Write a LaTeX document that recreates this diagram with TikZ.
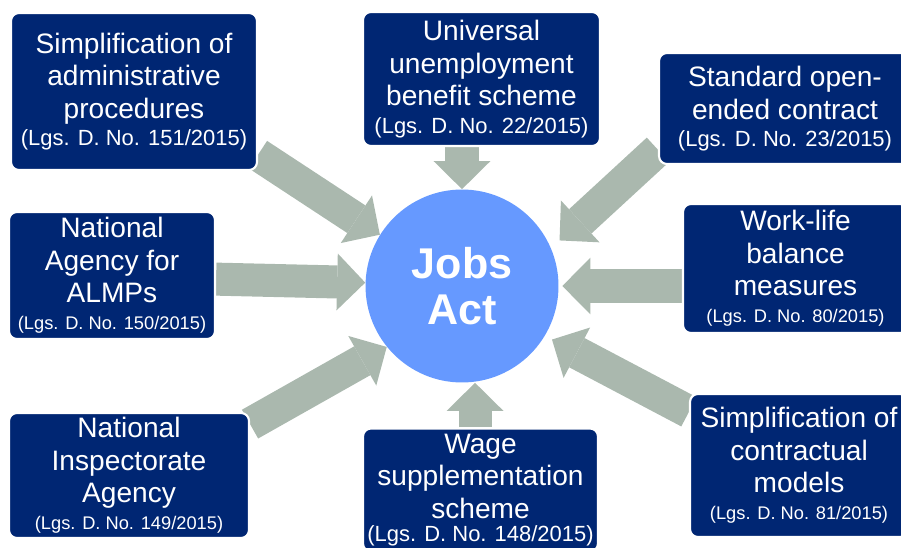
\documentclass[tikz,border=0pt]{standalone}
\usepackage{fontspec}
\setmainfont{Liberation Sans}
\usetikzlibrary{arrows.meta,backgrounds}
\definecolor{navybox}{RGB}{0,38,115}
\definecolor{hubblue}{RGB}{102,153,255}
\definecolor{arrowgray}{RGB}{170,184,174}
\newcommand{\lgsbig}[1]{{\fontsize{12.5}{15}\selectfont #1}}
\newcommand{\lgssmall}[1]{{\fontsize{10.4}{12.5}\selectfont #1}}

\begin{document}
\begin{tikzpicture}[x=0.02cm, y=-0.02cm,
  lawbox/.style={draw=white, line width=1.2pt, fill=navybox, rounded corners=4.5pt, text=white, align=center, inner sep=0pt, font={\fontsize{16}{18.5}\selectfont}},
  hub/.style={circle, fill=hubblue, text=white, minimum size=3.86cm, inner sep=0pt, align=center, font={\fontsize{24.5}{26.2}\selectfont\bfseries}},
  bigarrow/.style={draw=arrowgray, line width=18.8pt, -{Triangle[length=16pt, width=32.4pt, line width=0pt]}}]
\useasboundingbox (0,0) rectangle (901,547);
\clip (0,0) rectangle (901,547);

% Centre
\node[hub] (jobs) at (462,286) {Jobs\\Act};

% Boxes
\node[lawbox, minimum width=4.92cm, minimum height=3.14cm] (admin) at (134,91.5) {Simplification of\\administrative\\procedures\\[-3pt]\lgsbig{(Lgs. D. No. 151/2015)}};
\node[lawbox, minimum width=4.74cm, minimum height=2.68cm] (unemp) at (481.5,79) {Universal\\unemployment\\benefit scheme\\[-3pt]\lgsbig{(Lgs. D. No. 22/2015)}};
\node[lawbox, minimum width=5.04cm, minimum height=2.22cm] (contract) at (785,108.5) {Standard open-\\ended contract\\[-3pt]\lgsbig{(Lgs. D. No. 23/2015)}};
\node[lawbox, minimum width=4.5cm, minimum height=2.58cm] (worklife) at (795.5,268.5) {Work-life\\balance\\measures\\[-3pt]\lgssmall{(Lgs. D. No. 80/2015)}};
\node[lawbox, minimum width=4.36cm, minimum height=2.86cm] (models) at (799,465.5) {Simplification of\\contractual\\models\\[-3pt]\lgssmall{(Lgs. D. No. 81/2015)}};
\node[lawbox, minimum width=4.7cm, minimum height=2.46cm] (wage) at (480.5,490) {Wage\\supplementation\\scheme\\[-5pt]\lgsbig{(Lgs. D. No. 148/2015)}};
\node[lawbox, minimum width=4.8cm, minimum height=2.5cm] (inspect) at (129,475.5) {National\\Inspectorate\\Agency\\[-3pt]\lgssmall{(Lgs. D. No. 149/2015)}};
\node[lawbox, minimum width=4.12cm, minimum height=2.54cm] (almp) at (112,275.5) {National\\Agency for\\ALMPs\\[-3pt]\lgssmall{(Lgs. D. No. 150/2015)}};

% Arrows
\begin{pgfonlayer}{background}
\draw[bigarrow] (admin.-27) -- (jobs.148.5);
\draw[bigarrow] (unemp.south -| jobs) -- (jobs.north);
\draw[bigarrow, shorten >=6.5pt] (contract.198.7) -- (jobs.23.5);
\draw[bigarrow, shorten >=2pt] (worklife.west |- jobs) -- (jobs.east);
\draw[bigarrow, shorten >=4.5pt] (models.154.6) -- (jobs.-31);
\draw[bigarrow] (wage.95) -- (wage.95 |- jobs.south);
\draw[bigarrow] (inspect.23.5) -- (jobs.219);
\draw[bigarrow] (almp.-2) -- (jobs.178);
\end{pgfonlayer}
\end{tikzpicture}
\end{document}
